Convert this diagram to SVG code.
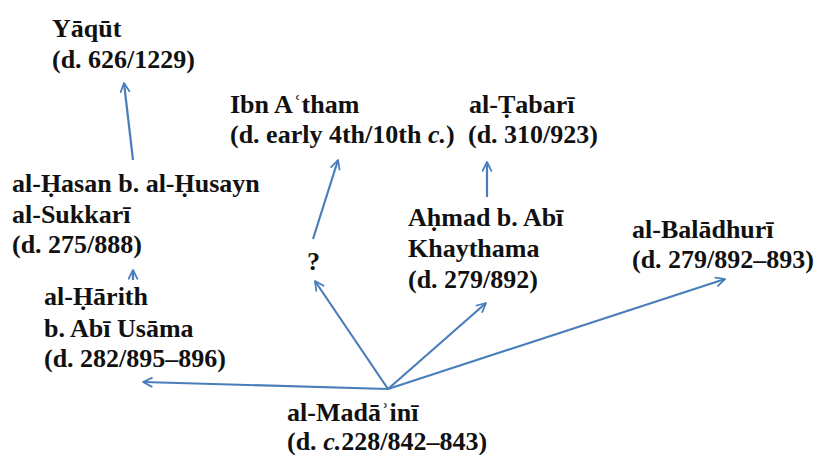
<svg xmlns="http://www.w3.org/2000/svg" width="820" height="455" viewBox="0 0 820 455">
<style>
text{font-family:'Liberation Serif',serif;font-weight:700;font-size:26px;fill:#111}
.it{font-style:italic}
.c{fill:none;stroke:#4a7ebb;stroke-width:2.2}
</style>
<defs>
<marker id="a" viewBox="0 0 10 10" refX="9" refY="5" markerWidth="5" markerHeight="5" orient="auto" markerUnits="strokeWidth">
<path d="M1,1 L9,5 L1,9" fill="none" stroke="#4a7ebb" stroke-width="1.6" stroke-linecap="round" stroke-linejoin="round"/>
</marker>
</defs>
<rect width="820" height="455" fill="#fff"/>
<g id="connectors">
<path class="c" marker-end="url(#a)" d="M133,160 L124,83"/>
<path class="c" marker-end="url(#a)" d="M133,280 L133,270"/>
<path class="c" marker-end="url(#a)" d="M313,239 L338,160"/>
<path class="c" marker-end="url(#a)" d="M487,197 L487,162"/>
<path class="c" marker-end="url(#a)" d="M388,389 L143,382"/>
<path class="c" marker-end="url(#a)" d="M388,389 L315,281"/>
<path class="c" marker-end="url(#a)" d="M388,389 L486,303"/>
<path class="c" marker-end="url(#a)" d="M388,389 L725,279"/>
</g>
<g id="yaqut"><text x="52" y="37">Yāqūt</text><text x="52" y="68">(d. 626/1229)</text></g>
<g id="ibn-atham"><text x="230" y="113">Ibn Aʿtham</text><text x="230" y="143">(d. early 4th/10th <tspan class="it">c.</tspan>)</text></g>
<g id="tabari"><text x="469" y="113">al-Ṭabarī</text><text x="468" y="143">(d. 310/923)</text></g>
<g id="sukkari"><text x="12" y="192">al-Ḥasan b. al-Ḥusayn</text><text x="12" y="223">al-Sukkarī</text><text x="12" y="253">(d. 275/888)</text></g>
<g id="harith"><text x="44" y="305">al-Ḥārith</text><text x="44" y="337">b. Abī Usāma</text><text x="44" y="367">(d. 282/895–896)</text></g>
<g id="unknown"><text x="307" y="270">?</text></g>
<g id="ahmad"><text x="408" y="226">Aḥmad b. Abī</text><text x="408" y="257">Khaythama</text><text x="408" y="288">(d. 279/892)</text></g>
<g id="baladhuri"><text x="632" y="238">al-Balādhurī</text><text x="632" y="268">(d. 279/892–893)</text></g>
<g id="madaini"><text x="287" y="421">al-Madāʾinī</text><text x="287" y="450">(d. <tspan class="it">c.</tspan>228/842–843)</text></g>
</svg>
